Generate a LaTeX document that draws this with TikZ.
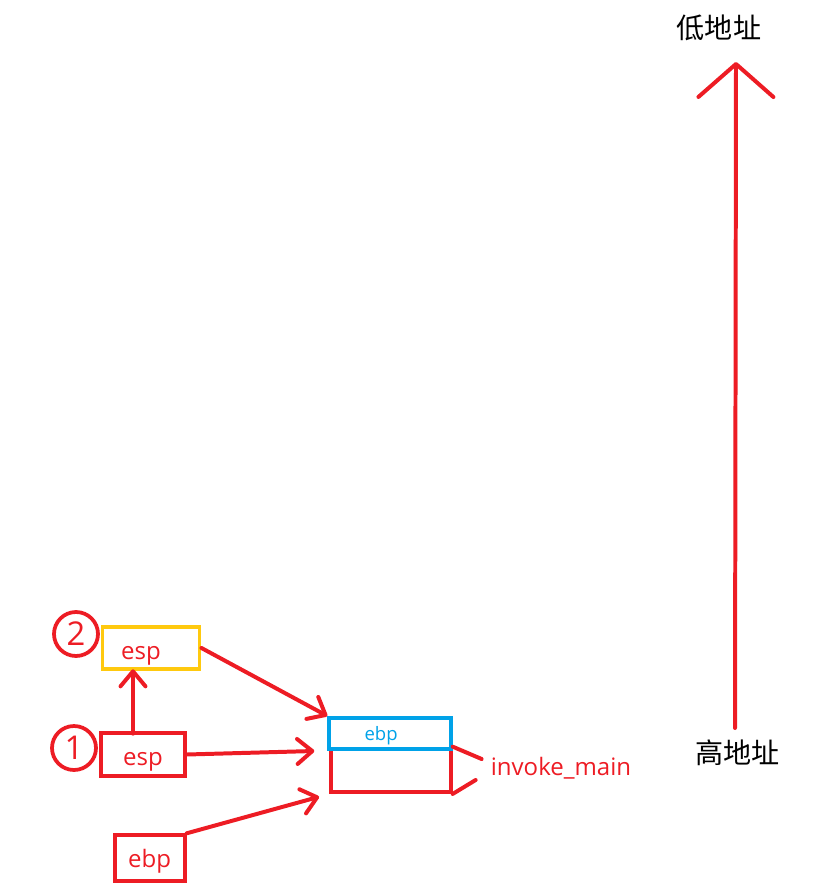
\documentclass[tikz,border=0pt]{standalone}
\usepackage{fontspec}
\setmainfont{Open Sans}
\newfontfamily\cjk{Noto Sans CJK SC}
\usetikzlibrary{arrows.meta}
\definecolor{PenRed}{HTML}{ED1C24}
\definecolor{PenYellow}{HTML}{FFC90E}
\definecolor{PenBlue}{HTML}{00A2E8}

\begin{document}
\begin{tikzpicture}[x=0.03cm,y=-0.03cm,
    pen/.style={line width=3.4pt,line cap=round,line join=round,PenRed},
    regbox/.style={draw=PenRed,line width=3.4pt,text=PenRed,inner sep=0pt,text depth=0pt,
      font=\fontsize{20.5}{24}\selectfont},
    esplow/.style={text height=0.68cm},
    tagcircle/.style={draw=PenRed,line width=3.2pt,circle,text=PenRed,inner sep=0pt,
      minimum size=1.32cm,font=\fontsize{28}{30}\selectfont},
    smallhead/.style={-{Straight Barb[length=0.45cm,width=0.75cm,round]}},
    bighead/.style={-{Straight Barb[length=0.99cm,width=2.25cm,round]}},
    addrlabel/.style={inner sep=0pt,font=\cjk\fontsize{24}{28}\selectfont}]
    \useasboundingbox (0,0) rectangle (839,892);

    \node[regbox,minimum width=3.58cm,minimum height=1.3cm] (frame) at (391,770.3) {};
    \node[regbox,draw=PenBlue,text=PenBlue,minimum width=3.66cm,minimum height=0.92cm,
          font=\fontsize{15.8}{18}\selectfont] (ebpslot) at (390.3,733.3) {ebp\hspace*{0.55cm}};
    \node[inner sep=0pt,text=PenRed,font=\fontsize{20.5}{24}\selectfont] (invoke) at (561,768) {invoke\_main};

    \node[regbox,esplow,draw=PenYellow,minimum width=2.91cm,minimum height=1.28cm] (esptwo) at (151,648) {esp\hspace*{0.6cm}};
    \node[regbox,esplow,minimum width=2.5cm,minimum height=1.31cm] (espone) at (143,754.5) {esp};
    \node[regbox,minimum width=2.1cm,minimum height=1.38cm] (ebpreg) at (149.7,858.3) {ebp};

    \node[tagcircle] (steptwo) at (76,634) {2};
    \node[tagcircle] (stepone) at (74,748) {1};

    \node[addrlabel] (lowaddr) at (719,28) {低地址};
    \node[addrlabel] (highaddr) at (737.5,753) {高地址};

    \draw[pen,smallhead] ([shift={(-10,3)}]espone.north) -- ([shift={(-18,-2)}]esptwo.south);
    \draw[pen,smallhead] (esptwo.east) -- (ebpslot.north west);
    \draw[pen,smallhead,shorten >=0.39cm] (espone.east) -- (ebpslot.south west);
    \draw[pen,smallhead,shorten >=0.32cm] (ebpreg.north east) -- (frame.south west);

    \draw[pen] (frame.north east) -- ([shift={(-9,-9)}]invoke.west);
    \draw[pen] (frame.south east) -- ([shift={(-15,12)}]invoke.west);

    \draw[pen,bighead] ([shift={(-2.5,-25)}]highaddr.center) -- ([shift={(17,34)}]lowaddr.center);
  \end{tikzpicture}
\end{document}
